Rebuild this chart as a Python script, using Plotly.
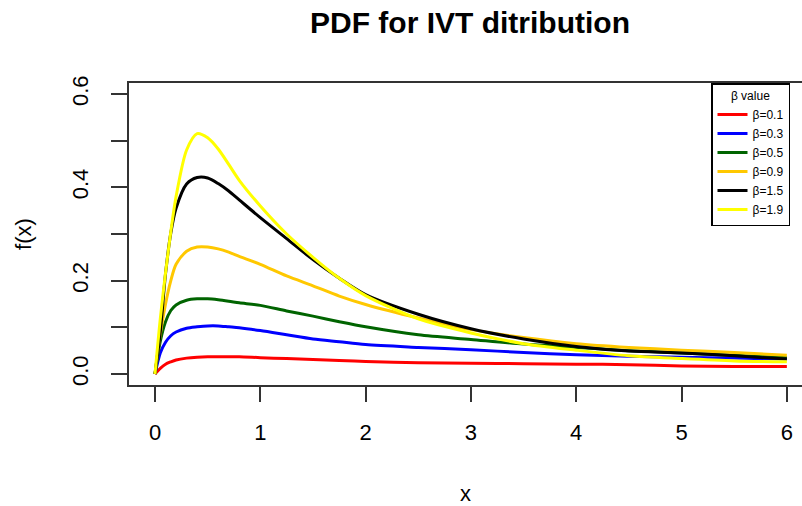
import plotly.graph_objects as go

# x grid shared by all curves
x_vals = [0, 0.05, 0.1, 0.15, 0.2, 0.3, 0.4, 0.5, 0.6, 0.7, 0.8, 1.0, 1.25, 1.5,
          1.75, 2.0, 2.5, 3.0, 3.5, 4.0, 4.5, 5.0, 5.5, 6.0]

# density values, one list per beta
f_b01 = [0, 0.012, 0.021, 0.026, 0.030, 0.034, 0.036, 0.037, 0.037, 0.037, 0.037, 0.035,
         0.033, 0.031, 0.029, 0.027, 0.024, 0.023, 0.022, 0.021, 0.020, 0.017, 0.016, 0.016]
f_b03 = [0, 0.045, 0.068, 0.082, 0.090, 0.098, 0.101, 0.103, 0.103, 0.101, 0.099, 0.093,
         0.084, 0.075, 0.069, 0.063, 0.057, 0.052, 0.046, 0.041, 0.038, 0.036, 0.034, 0.032]
f_b05 = [0, 0.070, 0.112, 0.136, 0.148, 0.158, 0.161, 0.161, 0.159, 0.156, 0.1525, 0.147,
         0.135, 0.124, 0.112, 0.101, 0.084, 0.074, 0.064, 0.057, 0.050, 0.045, 0.040, 0.035]
f_b09 = [0, 0.085, 0.150, 0.200, 0.235, 0.263, 0.272, 0.272, 0.268, 0.261, 0.252, 0.235,
         0.210, 0.189, 0.167, 0.149, 0.120, 0.095, 0.078, 0.065, 0.057, 0.051, 0.046, 0.040]
f_b15 = [0, 0.090, 0.215, 0.302, 0.355, 0.407, 0.421, 0.420, 0.408, 0.392, 0.373, 0.335,
         0.290, 0.245, 0.205, 0.170, 0.128, 0.097, 0.075, 0.059, 0.049, 0.045, 0.039, 0.032]
f_b19 = [0, 0.118, 0.217, 0.305, 0.380, 0.480, 0.515, 0.506, 0.482, 0.449, 0.415, 0.360,
         0.300, 0.250, 0.205, 0.168, 0.118, 0.088, 0.065, 0.051, 0.039, 0.033, 0.028, 0.026]

series_names = ["β=0.1", "β=0.3", "β=0.5", "β=0.9", "β=1.5", "β=1.9"]
series_vals = [f_b01, f_b03, f_b05, f_b09, f_b15, f_b19]
series_colors = ["#FF0000", "#0000FF", "#006400", "#FFC800", "#000000", "#FFFF00"]

x_ticks = [0, 1, 2, 3, 4, 5, 6]
y_ticks = [0.0, 0.1, 0.2, 0.3, 0.4, 0.5, 0.6]
y_tick_text = ["0.0", "", "0.2", "", "0.4", "", "0.6"]

FONT = "Liberation Sans, Arial, sans-serif"

fig = go.Figure()
for name, vals, col in zip(series_names, series_vals, series_colors):
    fig.add_trace(go.Scatter(x=x_vals, y=vals, mode="lines", name=name,
                             line=dict(color=col, width=3, shape="spline", smoothing=0.8)))

fig.update_layout(
    width=802, height=506,
    margin=dict(l=129, r=0, t=83, b=121, autoexpand=False),
    paper_bgcolor="white", plot_bgcolor="white",
    font=dict(family=FONT, color="black"),
    title=dict(text="<b>PDF for IVT ditribution</b>", x=470 / 802, xanchor="center",
               y=1 - 22 / 506, yanchor="middle", font=dict(size=30, family=FONT),
               automargin=False),
    showlegend=True,
    legend=dict(x=(711 - 129) / (802 - 129), xanchor="left", y=1, yanchor="top",
                bgcolor="white", bordercolor="black", borderwidth=1.5,
                font=dict(size=12, family=FONT),
                title=dict(text="β value", side="top center", font=dict(size=12)),
                itemwidth=30, tracegroupgap=0, entrywidth=66),
    xaxis=dict(range=[-0.247, 6.144], tickvals=x_ticks, ticks="outside", ticklen=15,
               tickwidth=1.5, tickcolor="#333", showgrid=False, zeroline=False,
               showline=True, linecolor="#333", linewidth=1.5, mirror=True,
               tickfont=dict(size=22), ticklabelstandoff=12, automargin=False,
               title=dict(text="x", font=dict(size=22), standoff=43)),
    yaxis=dict(range=[-0.0236, 0.6235], tickvals=y_ticks, ticktext=y_tick_text,
               ticks="outside", ticklen=16, tickwidth=1.5, tickcolor="#333",
               showgrid=False, zeroline=False, showline=True, linecolor="#333",
               linewidth=1.5, tickangle=-90, tickfont=dict(size=22),
               ticklabelstandoff=14, automargin=False,
               title=dict(text="f(x)", font=dict(size=22), standoff=31)),
)

fig.write_html("out.html", config={"displayModeBar": False},
               post_script="document.body.style.margin='0';")
